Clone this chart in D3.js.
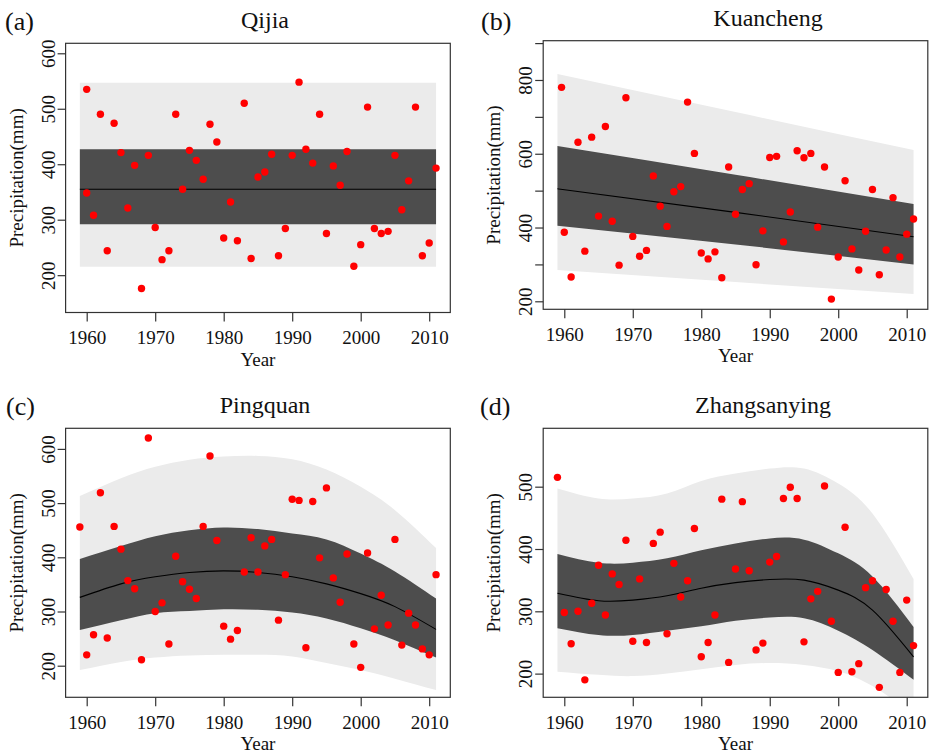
<!DOCTYPE html>
<html>
<head>
<meta charset="utf-8">
<script src="https://cdn.jsdelivr.net/npm/d3@7"></script>
<style>
  body { margin: 0; background: #fff; }
  text { font-family: "Liberation Serif", "Times New Roman", serif; fill: #111; }
</style>
</head>
<body>
<div id="chart"></div>
<script>
// ---- data ----
const yearsA = [1960, 1960, 1961, 1962, 1963, 1964, 1965, 1966, 1967, 1968, 1969, 1970, 1971, 1972, 1973, 1974, 1975, 1976, 1977, 1978,
  1979, 1980, 1981, 1982, 1983, 1984, 1985, 1986, 1987, 1988, 1989, 1990, 1991, 1992, 1993, 1994, 1995, 1996, 1997, 1998,
  1999, 2000, 2001, 2002, 2003, 2004, 2005, 2006, 2007, 2008, 2009, 2010, 2011];
const precipA = [535, 348, 308, 490, 244, 474, 421, 321, 398, 176, 416, 286, 228, 244, 490, 355, 425, 407, 373, 472,
  440, 267, 332, 262, 510, 230, 377, 386, 418, 235, 284, 416, 548, 427, 402, 490, 275, 397, 362, 423,
  216, 255, 503, 284, 275, 279, 416, 318, 370, 503, 235, 258, 393];

const yearsB = [1959.6, 1960, 1961, 1962, 1963, 1964, 1965, 1966, 1967, 1968, 1969, 1970, 1971, 1972, 1973, 1974, 1975, 1976, 1977, 1978,
  1979, 1980, 1981, 1982, 1983, 1984, 1985, 1986, 1987, 1988, 1989, 1990, 1991, 1992, 1993, 1994, 1995, 1996, 1997, 1998,
  1999, 2000, 2001, 2002, 2003, 2004, 2005, 2006, 2007, 2008, 2009, 2010, 2011];
const precipB = [780, 387, 266, 631, 336, 645, 431, 674, 417, 298, 752, 376, 322, 338, 540, 458, 403, 497, 511, 740,
  601, 331, 315, 334, 264, 564, 436, 503, 519, 299, 391, 590, 593, 361, 442, 608, 589, 601, 401, 564,
  206, 320, 527, 342, 285, 390, 503, 272, 339, 481, 320, 382, 423];

const years = [1959, 1960, 1961, 1962, 1963, 1964, 1965, 1966, 1967, 1968, 1969, 1970, 1971, 1972, 1973, 1974, 1975, 1976, 1977, 1978,
  1979, 1980, 1981, 1982, 1983, 1984, 1985, 1986, 1987, 1988, 1989, 1990, 1991, 1992, 1993, 1994, 1995, 1996, 1997, 1998,
  1999, 2000, 2001, 2002, 2003, 2004, 2005, 2006, 2007, 2008, 2009, 2010, 2011];
const precipC = [456, 220, 257, 519, 251, 457, 415, 357, 342, 211, 620, 300, 316, 240, 402, 355, 341, 324, 457, 587,
  431, 273, 249, 265, 373, 436, 373, 421, 433, 284, 368, 507, 505, 233, 503, 399, 528, 362, 317, 406,
  240, 197, 408, 268, 330, 275, 433, 238, 297, 275, 231, 220, 368];
const precipD = [515, 298, 248, 300, 190, 313, 374, 294, 360, 343, 414, 252, 352, 250, 409, 427, 264, 377, 323, 349,
  433, 227, 250, 294, 480, 218, 368, 476, 365, 238, 249, 379, 388, 481, 499, 481, 251, 320, 332, 501,
  284, 202, 435, 203, 216, 338, 349, 178, 335, 284, 202, 318, 245];

// fitted line and bands (inner = dark, outer = light)
const bandYearsA = [1959, 2011];
const fitA = [355, 355];
const innerLoA = [292, 292];
const innerHiA = [427, 427];
const outerLoA = [215, 215];
const outerHiA = [547, 547];

const bandYearsB = [1959, 1985, 2011];
const fitB = [505, 441, 375];
const innerLoB = [405, 354, 300];
const innerHiB = [621, 543, 464];
const outerLoB = [285, 252, 220];
const outerHiB = [816, 713, 610];

const bandYearsCD = [1959, 1965, 1970, 1975, 1980, 1985, 1990, 1995, 2000, 2005, 2011];
const fitC = [326, 351, 364, 372, 375, 372, 364, 351, 333, 309, 267];
const innerLoC = [266, 284, 297, 301, 304, 303, 298, 287, 269, 247, 215];
const innerHiC = [397, 421, 439, 450, 455, 452, 444, 433, 407, 374, 324];
const outerLoC = [192, 207, 215, 219, 220, 220, 217, 205, 192, 176, 155];
const outerHiC = [513, 546, 567, 580, 586, 587, 581, 562, 530, 487, 417];

const fitD = [329, 317, 318, 325, 337, 346, 351, 350, 334, 302, 227];
const innerLoD = [273, 262, 262, 269, 276, 285, 290, 289, 269, 238, 190];
const innerHiD = [392, 378, 378, 385, 398, 409, 417, 415, 393, 356, 275];
const outerLoD = [203, 198, 196, 200, 207, 214, 217, 214, 204, 180, 135];
const outerHiD = [497, 481, 481, 489, 509, 521, 529, 529, 505, 457, 352];

const xTicks = [1960, 1970, 1980, 1990, 2000, 2010];
const yTicksA = [200, 300, 400, 500, 600];
const yTicksB = [200, 300, 400, 500, 600, 700, 800, 900];
const yLabelsB = [200, 400, 600, 800];
const yTicksC = [200, 300, 400, 500, 600];
const yTicksD = [200, 300, 400, 500];

// ---- layout ----
const W = 929, H = 755;
const svg = d3.select("#chart").append("svg")
    .attr("width", W)
    .attr("height", H);

const panels = [
  { id: "a", letter: "(a)", title: "Qijia", left: 65.6, right: 450.3, top: 43.3, bottom: 312.5, titleX: 265, letterX: 5,
    yDomain: [132.7, 618], yTicks: yTicksA, yLabels: yTicksA,
    xs: yearsA, ys: precipA, bandYears: bandYearsA, fit: fitA, innerLo: innerLoA, innerHi: innerHiA, outerLo: outerLoA, outerHi: outerHiA },
  { id: "b", letter: "(b)", title: "Kuancheng", left: 543.2, right: 927.8, top: 40.7, bottom: 309.3, titleX: 768, letterX: 481,
    yDomain: [178.3, 906.5], yTicks: yTicksB, yLabels: yLabelsB,
    xs: yearsB, ys: precipB, bandYears: bandYearsB, fit: fitB, innerLo: innerLoB, innerHi: innerHiB, outerLo: outerLoB, outerHi: outerHiB },
  { id: "c", letter: "(c)", title: "Pingquan", left: 65.6, right: 450.3, top: 428.3, bottom: 697.3, titleX: 265, letterX: 6,
    yDomain: [141.7, 638], yTicks: yTicksC, yLabels: yTicksC,
    xs: years, ys: precipC, bandYears: bandYearsCD, fit: fitC, innerLo: innerLoC, innerHi: innerHiC, outerLo: outerLoC, outerHi: outerHiC },
  { id: "d", letter: "(d)", title: "Zhangsanying", left: 543.2, right: 927.8, top: 428.3, bottom: 697.3, titleX: 763, letterX: 480,
    yDomain: [162, 593.7], yTicks: yTicksD, yLabels: yTicksD,
    xs: years, ys: precipD, bandYears: bandYearsCD, fit: fitD, innerLo: innerLoD, innerHi: innerHiD, outerLo: outerLoD, outerHi: outerHiD }
];

const axisColor = "#333";

panels.forEach(p => {
    const x = d3.scaleLinear().domain([1956.92, 2013.08]).range([p.left, p.right]);
    const y = d3.scaleLinear().domain(p.yDomain).range([p.bottom, p.top]);

    const g = svg.append("g");

    // clip to plot region
    g.append("clipPath").attr("id", "clip-" + p.id)
        .append("rect")
        .attr("x", p.left).attr("y", p.top)
        .attr("width", p.right - p.left).attr("height", p.bottom - p.top);

    const plot = g.append("g").attr("clip-path", `url(#clip-${p.id})`);

    const band = p.bandYears.map((yr, i) => ({
        yr: yr, fit: p.fit[i], innerLo: p.innerLo[i], innerHi: p.innerHi[i], outerLo: p.outerLo[i], outerHi: p.outerHi[i]
    }));

    const outerArea = d3.area()
        .x(d => x(d.yr)).y0(d => y(d.outerLo)).y1(d => y(d.outerHi))
        .curve(d3.curveNatural);
    const innerArea = d3.area()
        .x(d => x(d.yr)).y0(d => y(d.innerLo)).y1(d => y(d.innerHi))
        .curve(d3.curveNatural);
    const fitLine = d3.line()
        .x(d => x(d.yr)).y(d => y(d.fit))
        .curve(d3.curveNatural);

    plot.append("path").datum(band).attr("d", outerArea).attr("fill", "#ebebeb");
    plot.append("path").datum(band).attr("d", innerArea).attr("fill", "#4d4d4d");
    plot.append("path").datum(band).attr("d", fitLine)
        .attr("fill", "none").attr("stroke", "#000").attr("stroke-width", 1.1);

    const pts = p.xs.map((yr, i) => ({ yr: yr, v: p.ys[i] }));
    plot.selectAll(".pt")
        .data(pts)
        .enter()
        .append("circle")
        .attr("class", "pt")
        .attr("cx", d => x(d.yr))
        .attr("cy", d => y(d.v))
        .attr("r", 3.7)
        .attr("fill", "#ff0000");

    // box
    g.append("rect")
        .attr("x", p.left).attr("y", p.top)
        .attr("width", p.right - p.left).attr("height", p.bottom - p.top)
        .attr("fill", "none").attr("stroke", axisColor).attr("stroke-width", 1.2);

    // x axis
    const xAxis = d3.axisBottom(x).tickValues(xTicks).tickFormat(d3.format("d")).tickSize(9).tickPadding(0);
    const gx = g.append("g")
        .attr("transform", `translate(0,${p.bottom})`)
        .call(xAxis);
    gx.select(".domain").remove();
    gx.selectAll("line").attr("stroke", axisColor).attr("stroke-width", 1.2);
    gx.selectAll("text")
        .attr("y", 31.5).attr("dy", null)
        .style("font-size", "19px")
        .style("font-family", "'Liberation Serif', 'Times New Roman', serif")
        .attr("fill", "#111");

    // y axis (rotated labels like R's default)
    const yAxis = d3.axisLeft(y).tickValues(p.yTicks).tickSize(8).tickFormat(d => p.yLabels.includes(d) ? d : "");
    const gy = g.append("g")
        .attr("transform", `translate(${p.left},0)`)
        .call(yAxis);
    gy.select(".domain").remove();
    gy.selectAll("line").attr("stroke", axisColor).attr("stroke-width", 1.2);
    gy.selectAll("text")
        .attr("x", null).attr("dy", null)
        .attr("transform", "translate(-11,0) rotate(-90)")
        .attr("text-anchor", "middle")
        .style("font-size", "19px")
        .style("font-family", "'Liberation Serif', 'Times New Roman', serif")
        .attr("fill", "#111");

    // axis titles
    g.append("text")
        .attr("x", (p.left + p.right) / 2)
        .attr("y", p.bottom + 53)
        .attr("text-anchor", "middle")
        .style("font-size", "19px")
        .text("Year");

    g.append("text")
        .attr("transform", `translate(${p.left - 43},${(p.top + p.bottom) / 2}) rotate(-90)`)
        .attr("text-anchor", "middle")
        .style("font-size", "19px")
        .text("Precipitation(mm)");

    // panel title and letter
    g.append("text")
        .attr("x", p.titleX)
        .attr("y", p.top - 15)
        .attr("text-anchor", "middle")
        .style("font-size", "24px")
        .text(p.title);

    g.append("text")
        .attr("x", p.letterX)
        .attr("y", p.id === "a" || p.id === "b" ? 30 : 415)
        .style("font-size", "26px")
        .text(p.letter);
});
</script>
</body>
</html>
